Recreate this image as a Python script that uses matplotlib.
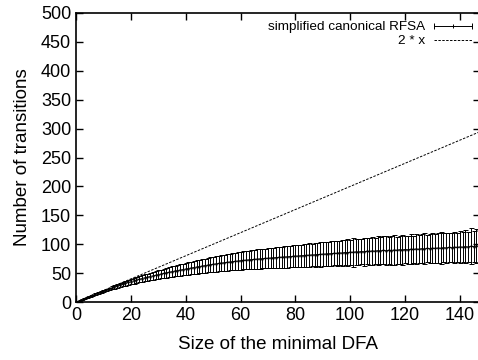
import numpy as np
import matplotlib
matplotlib.use("Agg")
import matplotlib.pyplot as plt
from matplotlib.lines import Line2D
from matplotlib.legend_handler import HandlerLine2D, HandlerTuple

plt.rcParams['font.family'] = ['Liberation Sans', 'DejaVu Sans']

# size of the minimal DFA
sizes = list(range(1, 148))

# mean number of transitions of the simplified canonical RFSA
means = [
    2.0, 4.0, 5.9, 7.9, 9.8, 11.7, 13.6, 15.4, 17.3, 19.1,
    20.9, 22.6, 24.3, 26.0, 27.6, 29.2, 30.8, 32.3, 33.8, 35.3,
    36.7, 38.0, 39.3, 40.6, 41.8, 43.0, 44.1, 45.2, 46.3, 47.3,
    48.5, 49.6, 50.6, 51.6, 52.6, 53.5, 54.4, 55.3, 56.1, 57.0,
    57.9, 58.8, 59.6, 60.5, 61.4, 62.2, 63.0, 63.8, 64.6, 65.3,
    66.0, 66.7, 67.3, 68.0, 68.6, 69.3, 69.8, 70.4, 71.0, 71.5,
    72.0, 72.5, 72.9, 73.4, 73.8, 74.3, 74.6, 75.1, 75.4, 75.9,
    76.2, 76.6, 76.9, 77.3, 77.5, 78.0, 78.2, 78.7, 78.9, 79.4,
    79.6, 80.1, 80.3, 80.8, 81.0, 81.5, 81.6, 82.2, 82.3, 82.9,
    83.0, 83.5, 83.6, 84.2, 84.3, 84.9, 84.8, 85.6, 85.5, 86.2,
    86.1, 86.7, 86.5, 87.3, 87.0, 87.8, 87.5, 88.4, 88.0, 88.8,
    88.5, 89.2, 88.8, 89.6, 89.1, 90.0, 89.6, 90.5, 90.1, 90.8,
    90.5, 91.3, 90.9, 91.8, 91.3, 92.3, 91.8, 92.7, 92.3, 93.1,
    92.8, 93.5, 93.1, 94.0, 93.6, 94.4, 94.0, 94.9, 94.5, 95.3,
    95.0, 95.8, 95.3, 96.4, 95.9, 97.0, 96.6,
]

# half-width of the error bars
errors = [
    0.0, 0.3, 0.5, 0.7, 0.9, 1.1, 1.3, 1.5, 1.7, 1.9,
    2.1, 2.4, 2.6, 2.9, 3.1, 3.4, 3.6, 3.9, 4.1, 4.4,
    4.7, 5.0, 5.3, 5.6, 5.9, 6.2, 6.5, 6.8, 7.1, 7.4,
    7.7, 8.0, 8.3, 8.6, 8.9, 9.2, 9.5, 9.8, 10.1, 10.4,
    10.7, 11.0, 11.2, 11.5, 11.8, 12.0, 12.3, 12.5, 12.8, 13.0,
    13.3, 13.5, 13.8, 14.0, 14.2, 14.5, 14.7, 14.9, 15.1, 15.4,
    15.6, 15.8, 16.0, 16.2, 16.4, 16.6, 16.8, 17.0, 17.2, 17.4,
    17.5, 17.7, 17.9, 18.1, 18.2, 18.4, 18.6, 18.8, 18.9, 19.1,
    19.3, 19.0, 19.8, 19.4, 20.3, 19.6, 20.5, 20.0, 21.0, 20.2,
    21.3, 20.6, 21.8, 20.8, 22.0, 21.2, 22.4, 21.0, 23.5, 21.6,
    25.5, 22.0, 23.2, 22.1, 24.0, 22.5, 23.8, 24.6, 22.9, 25.0,
    23.4, 24.2, 25.3, 23.0, 24.8, 25.8, 23.6, 24.4, 26.0, 23.8,
    24.5, 25.6, 23.9, 26.2, 24.3, 25.0, 26.8, 24.1, 25.4, 26.0,
    24.6, 25.5, 27.2, 24.8, 26.3, 25.1, 24.9, 26.7, 25.6, 27.0,
    25.3, 28.4, 26.0, 31.0, 27.5, 29.5, 28.0,
]

x_max = 147.3

fig = plt.figure(figsize=(4.78, 3.6), dpi=100)
ax = fig.add_axes([0.159, 0.161, 0.845, 0.803])

ax.errorbar(sizes, means, yerr=errors, color="black", lw=0.7,
            elinewidth=0.7, capsize=1.8, capthick=0.7,
            marker="+", ms=2)
x_line = np.array([0, x_max])
ax.plot(x_line, 2 * x_line, color="black", lw=0.7, ls=(0, (2.5, 1.5)))

ax.set_xlim(0, x_max)
ax.set_ylim(0, 500)
ax.set_xticks(range(0, 141, 20))
ax.set_yticks(range(0, 501, 50))
ax.tick_params(direction="in", top=True, right=True, labelsize=13,
               length=5, width=1)
for s in ax.spines.values():
    s.set_linewidth(1.2)
ax.set_xlabel("Size of the minimal DFA", fontsize=13.5, labelpad=9)
ax.set_ylabel("Number of transitions", fontsize=13.5, labelpad=7)

# gnuplot-like legend keys: horizontal error bar, then dashed line
bar_ends = Line2D([], [], color="black", lw=0.7, marker="|", ms=5, mew=0.7)
bar_mid = Line2D([], [], color="black", lw=0, marker="+", ms=3, mew=0.7)
dash_key = Line2D([], [], color="black", lw=0.7, ls=(0, (2.5, 1.5)))
ax.legend([(bar_ends, bar_mid), dash_key],
          ["simplified canonical RFSA", "2 * x"],
          handler_map={bar_ends: HandlerLine2D(numpoints=2, marker_pad=0),
                       bar_mid: HandlerLine2D(numpoints=1),
                       tuple: HandlerTuple(ndivide=1, pad=0)},
          loc="upper right", frameon=False, markerfirst=False, fontsize=9.7,
          handlelength=2.8, handletextpad=0.7, borderaxespad=0.2,
          labelspacing=0.1)

fig.savefig("out.png", dpi=100)
